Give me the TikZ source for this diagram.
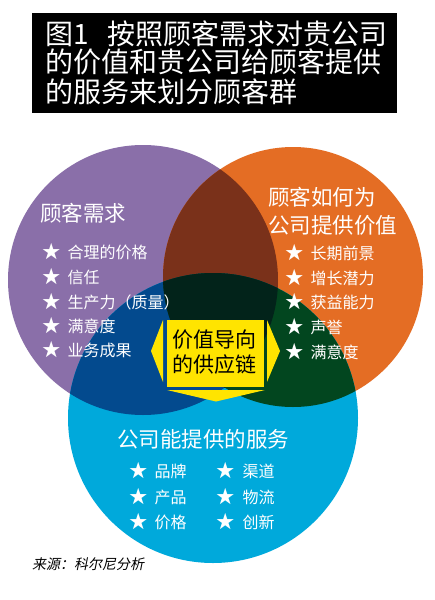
\documentclass[tikz,border=0pt]{standalone}
\usepackage{fontspec}
\setmainfont{Noto Sans CJK SC}
\newfontfamily\srcfont[FakeSlant=0.2]{Noto Sans CJK SC}
\definecolor{cpurple}{RGB}{138,111,169}
\definecolor{corange}{RGB}{228,109,36}
\definecolor{cblue}{RGB}{0,169,219}
\definecolor{cpo}{RGB}{122,49,26}
\definecolor{cpb}{RGB}{3,74,142}
\definecolor{cob}{RGB}{2,70,31}
\definecolor{cpob}{RGB}{2,35,26}
\definecolor{vyellow}{RGB}{255,228,0}
\newcommand{\bstar}{\raisebox{-0.05em}{\scalebox{1.15}{★}}}
\begin{document}
\begin{tikzpicture}[x=1pt,y=-1pt,
  ttl/.style={font=\fontsize{28}{28}\selectfont,text=white,anchor=base west,inner sep=0pt},
  hdr/.style={font=\fontsize{21.5}{22}\selectfont,text=white,anchor=base west,inner sep=0pt},
  itm/.style={font=\fontsize{16}{16}\selectfont,text=white,anchor=base west,inner sep=0pt},
  ctr/.style={font=\fontsize{21}{21}\selectfont,text=black,anchor=base west,inner sep=0pt},
  src/.style={font=\srcfont\fontsize{14}{14}\selectfont,text=black,anchor=base west,inner sep=0pt},
  arr/.style={fill=vyellow}]
\useasboundingbox (0,0) rectangle (434,600);
\fill[white] (0,0) rectangle (434,600);
% circles
\coordinate (P) at (143,280);
\coordinate (O) at (293,277);
\coordinate (B) at (213,418);
\fill[cpurple] (P) circle[radius=135pt];
\fill[corange] (O) circle[radius=130pt];
\fill[cblue] (B) circle[radius=145pt];
\begin{scope}
  \clip (P) circle[radius=135pt];
  \fill[cpo] (O) circle[radius=130pt];
  \fill[cpb] (B) circle[radius=145pt];
\end{scope}
\begin{scope}
  \clip (O) circle[radius=130pt];
  \fill[cob] (B) circle[radius=145pt];
\end{scope}
\begin{scope}
  \clip (P) circle[radius=135pt];
  \clip (O) circle[radius=130pt];
  \fill[cpob] (B) circle[radius=145pt];
\end{scope}
% title
\node[fill=black,minimum width=365pt,minimum height=100pt,anchor=north west,inner sep=0pt] (titlebox) at (32,13) {};
\node[ttl] (t1) at (45,44.6) {图1\hspace{19pt}按照顾客需求对贵公司};
\node[ttl] (t2) at (45,72.6) {的价值和贵公司给顾客提供};
\node[ttl] (t3) at (45,102.6) {的服务来划分顾客群};
% purple
\node[hdr] (ph) at (40,221.2) {顾客需求};
\node[itm] (p1) at (42,258) {\bstar\hspace{7pt}合理的价格};
\node[itm] (p2) at (42,283) {\bstar\hspace{7pt}信任};
\node[itm] (p3) at (42,308) {\bstar\hspace{7pt}生产力（质量）};
\node[itm] (p4) at (42,332) {\bstar\hspace{7pt}满意度};
\node[itm] (p5) at (42,356) {\bstar\hspace{7pt}业务成果};
% orange
\node[hdr] (oh1) at (268,205.2) {顾客如何为};
\node[hdr] (oh2) at (268,233) {公司提供价值};
\node[itm] (o1) at (285,259) {\bstar\hspace{7pt}长期前景};
\node[itm] (o2) at (285,284) {\bstar\hspace{7pt}增长潜力};
\node[itm] (o3) at (285,308) {\bstar\hspace{7pt}获益能力};
\node[itm] (o4) at (285,333) {\bstar\hspace{7pt}声誉};
\node[itm] (o5) at (285,358) {\bstar\hspace{7pt}满意度};
% blue
\node[hdr] (bh) at (117,447) {公司能提供的服务};
\node[itm] (b1) at (129,477) {\bstar\hspace{7pt}品牌};
\node[itm] (b2) at (129,503) {\bstar\hspace{7pt}产品};
\node[itm] (b3) at (129,528) {\bstar\hspace{7pt}价格};
\node[itm] (b4) at (216,477) {\bstar\hspace{8pt}渠道};
\node[itm] (b5) at (216,503) {\bstar\hspace{8pt}物流};
\node[itm] (b6) at (216,528) {\bstar\hspace{8pt}创新};
% centre
\node[fill=vyellow,minimum width=97pt,minimum height=67pt,anchor=north west,inner sep=0pt] (vbox) at (167,320) {};
\fill[arr] (163,320) -- (151,351) -- (163,382) -- cycle;
\fill[arr] (267,320) -- (280,351) -- (267,382) -- cycle;
\fill[arr] (167,390) -- (265,390) -- (216,401.5) -- cycle;
\node[ctr] (c1) at (172,347) {价值导向};
\node[ctr] (c2) at (172,372) {的供应链};
% source
\node[src] (srcn) at (32,569) {来源：科尔尼分析};
\end{tikzpicture}
\end{document}
